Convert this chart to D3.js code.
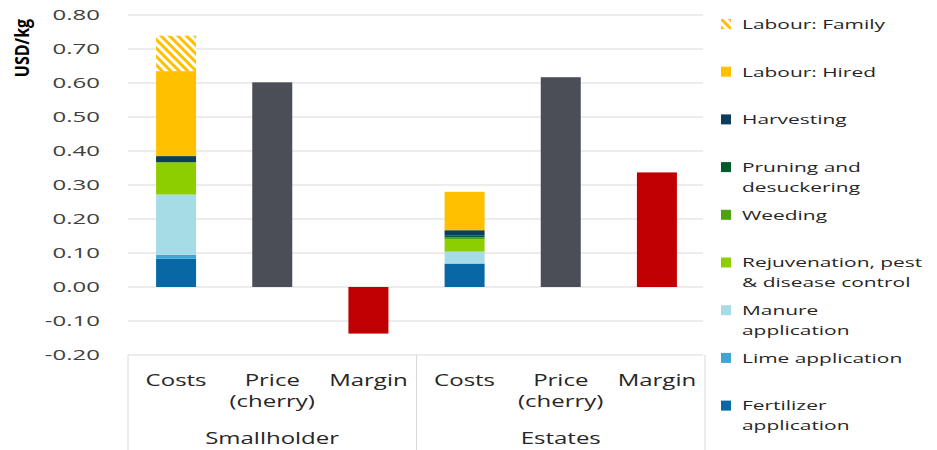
<!DOCTYPE html>
<html><head><meta charset="utf-8">
<script src="https://cdn.jsdelivr.net/npm/d3@7"></script>
<style>
body{margin:0;background:#fff;}
svg text{font-family:"Open Sans",sans-serif;fill:#262626;}
.sx{transform-box:fill-box;transform:scaleX(1.5);}
</style></head>
<body><svg id="c" width="937" height="450"></svg>
<script>
const groups = ["Smallholder", "Estates"];
const categories = ["Costs", "Price|(cherry)", "Margin"];
const components = ["Fertilizer application", "Lime application", "Manure application",
  "Rejuvenation, pest & disease control", "Weeding", "Pruning and desuckering",
  "Harvesting", "Labour: Hired", "Labour: Family"];
const legendLines = [["Fertilizer", "application"], ["Lime application"], ["Manure", "application"],
  ["Rejuvenation, pest", "& disease control"], ["Weeding"], ["Pruning and", "desuckering"],
  ["Harvesting"], ["Labour: Hired"], ["Labour: Family"]];
const smallholderCosts = [0.083, 0.012, 0.177, 0.095, 0, 0, 0.018, 0.250, 0.104];
const estatesCosts = [0.069, 0, 0.035, 0.036, 0.006, 0.005, 0.016, 0.113, 0];
const prices = [0.602, 0.617];
const margins = [-0.137, 0.337];
const yTicks = [-0.2, -0.1, 0, 0.1, 0.2, 0.3, 0.4, 0.5, 0.6, 0.7, 0.8];
const compColors = ["#0768A5", "#3FA6D4", "#A6DCE6", "#8DCE00", "#4CA30E", "#005A2B", "#0A3D5E", "#FFC000", "url(#hatch)"];
const priceColor = "#4B4E57", marginColor = "#C00000";

const svg = d3.select("#c");
const defs = svg.append("defs");
const pat = defs.append("pattern").attr("id", "hatch").attr("patternUnits", "userSpaceOnUse")
  .attr("width", 6).attr("height", 6).attr("patternTransform", "rotate(-45)");
pat.append("rect").attr("width", 6).attr("height", 6).attr("fill", "#FFC000");
pat.append("rect").attr("width", 3).attr("height", 6).attr("fill", "#ffffff");

const L = 128, R = 705, T = 15, B = 355;
const y = d3.scaleLinear().domain([-0.2, 0.8]).range([B, T]);
const x0 = d3.scaleBand().domain(groups).range([L, R]);
const x1 = d3.scaleBand().domain(categories).range([0, x0.bandwidth()]).paddingInner(0.584).paddingOuter(0.292);
const fmt = d3.formatLocale({decimal: ".", thousands: ",", grouping: [3], currency: ["", ""], minus: "-"}).format(".2f");

// gridlines
svg.append("g").selectAll("line").data(yTicks).join("line")
  .attr("x1", L).attr("x2", R - 2).attr("y1", d => y(d)).attr("y2", d => y(d))
  .attr("stroke", "#D9D9D9").attr("stroke-width", 1);

// y tick labels
svg.append("g").selectAll("text").data(yTicks).join("text")
  .attr("class", "sx").style("transform-origin", "right center").style("transform", "scaleX(1.6)")
  .attr("x", 100).attr("y", d => y(d)).attr("dy", "0.36em").attr("text-anchor", "end")
  .attr("font-size", 15).style("fill", "#404040")
  .text(d => fmt(d));

svg.append("text").attr("transform", `translate(29,48) rotate(-90) scale(1,1.25)`)
  .attr("text-anchor", "middle").attr("font-size", 16).attr("font-weight", "bold")
  .style("fill", "#000").text("USD/kg");

// stacked cost bars
const costData = [smallholderCosts, estatesCosts];
groups.forEach((g, gi) => {
  const gx = x0(g);
  let acc = 0;
  const segs = costData[gi].map((v, i) => { const s = {y0: acc, y1: acc + v, i}; acc += v; return s; })
    .filter(s => s.y1 > s.y0);
  svg.append("g").selectAll("rect").data(segs).join("rect")
    .attr("x", gx + x1(categories[0])).attr("width", x1.bandwidth())
    .attr("y", d => y(d.y1)).attr("height", d => y(d.y0) - y(d.y1))
    .attr("fill", d => compColors[d.i]);
  svg.append("rect").attr("x", gx + x1(categories[1])).attr("width", x1.bandwidth())
    .attr("y", y(prices[gi])).attr("height", y(0) - y(prices[gi])).attr("fill", priceColor);
  const m = margins[gi];
  svg.append("rect").attr("x", gx + x1(categories[2])).attr("width", x1.bandwidth())
    .attr("y", y(Math.max(0, m))).attr("height", Math.abs(y(m) - y(0))).attr("fill", marginColor);
});

// category axis box
const ax = svg.append("g");
[L, x0("Estates"), R].forEach(xx => ax.append("line").attr("x1", xx).attr("x2", xx)
  .attr("y1", B).attr("y2", 450).attr("stroke", "#D9D9D9"));
groups.forEach(g => {
  categories.forEach(c => {
    const cx = x0(g) + x1(c) + x1.bandwidth() / 2;
    c.split("|").forEach((ln, k) => ax.append("text").attr("class", "sx").style("transform-origin", "center")
      .attr("x", cx).attr("y", 386 + k * 21).attr("text-anchor", "middle").attr("font-size", 16).text(ln));
  });
  ax.append("text").attr("class", "sx").style("transform-origin", "center")
    .attr("x", x0(g) + x0.bandwidth() / 2).attr("y", 444).attr("text-anchor", "middle")
    .attr("font-size", 16).text(g);
});

// legend
const lg = svg.append("g");
const order = d3.range(components.length).reverse();
order.forEach((ci, k) => {
  const cy = 24 + k * 47.7;
  lg.append("rect").attr("x", 721).attr("y", cy - 5).attr("width", 10).attr("height", 10)
    .attr("fill", compColors[ci]);
  legendLines[ci].forEach((ln, j) => lg.append("text").attr("class", "sx").style("transform-origin", "left center")
    .attr("x", 742).attr("y", cy + j * 20).attr("dy", "0.36em").attr("font-size", 13.5)
    .style("transform", "scaleX(1.55)").text(ln));
});
</script></body></html>
